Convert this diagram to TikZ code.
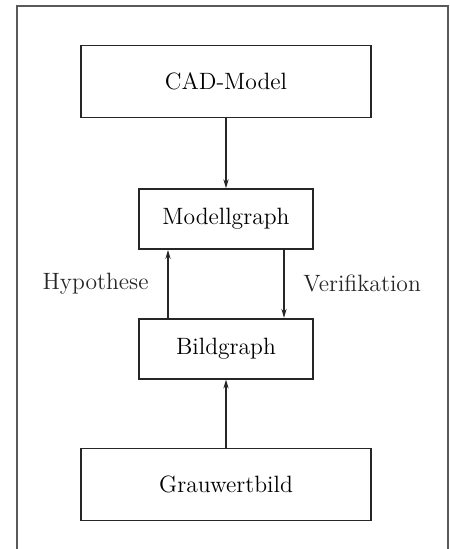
\documentclass[tikz,border=0pt]{standalone}
\usepackage{tikz}
\usetikzlibrary{arrows.meta, positioning}

\begin{document}
\begin{tikzpicture}[
  node distance=34pt,
  box/.style={rectangle, draw=black!85, line width=0.8pt, minimum width=87pt,
              minimum height=30pt, align=center, font=\fontsize{11.8}{14}\selectfont},
  widebox/.style={box, minimum width=145pt, minimum height=36pt},
  arrow/.style={-{Stealth[length=4.5pt,width=2.6pt]}, line width=0.7pt, black!85},
  lbl/.style={font=\fontsize{11.8}{14}\selectfont}
]
\useasboundingbox (-113pt,-233.75pt) rectangle (111.5pt,40.75pt);
\draw [black!65, line width=0.6pt] (-104.5pt,-240pt) -- (-104.5pt,37.75pt) -- (111pt,37.75pt) -- (111pt,-240pt);
\node (cad)    [widebox]               {CAD-Model};
\node (modell) [box, below=35pt of cad] {Modellgraph};
\node (bild)   [box, below=of modell]  {Bildgraph};
\node (grau)   [widebox, below=of bild] {Grauwertbild};
\draw [arrow] (cad) -- (modell);
\draw [arrow] ([xshift=-29pt]bild.north) -- node[lbl, left=6pt]{Hypothese} ([xshift=-29pt]modell.south);
\draw [arrow] ([xshift=29pt]modell.south) -- node[lbl, right=6pt]{Verifikation} ([xshift=29pt]bild.north);
\draw [arrow] (grau) -- (bild);
\end{tikzpicture}
\end{document}
